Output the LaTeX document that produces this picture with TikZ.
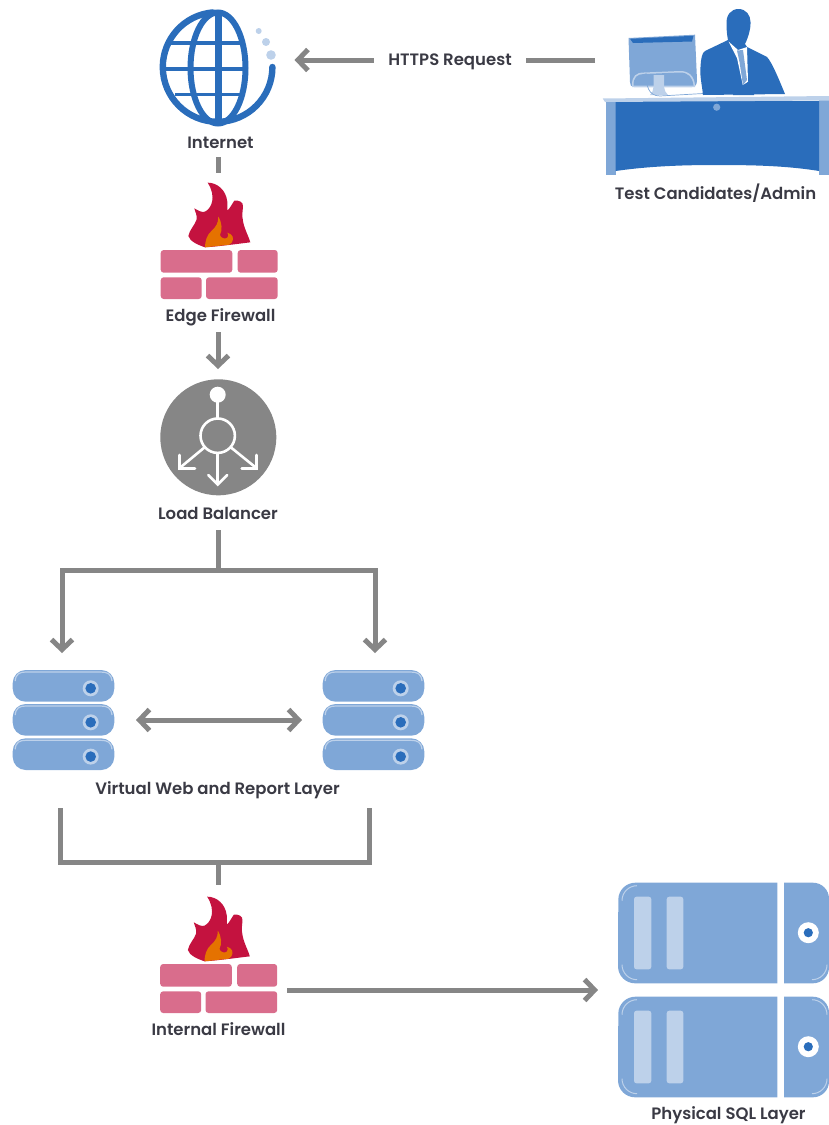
\documentclass[tikz,border=0pt]{standalone}
\usepackage{fontspec}
\setmainfont{Poppins}[BoldFont={Poppins SemiBold}]
\usetikzlibrary{arrows.meta}
\definecolor{blu}{HTML}{2A6DBB}
\definecolor{mid}{HTML}{7FA7D7}
\definecolor{pale}{HTML}{BDD1EA}
\definecolor{conn}{HTML}{868686}
\definecolor{pnk}{HTML}{D96D8C}
\definecolor{crim}{HTML}{C4123F}
\definecolor{org}{HTML}{E57200}
\definecolor{ink}{HTML}{3A3A44}
\tikzset{
  lbl/.style={font=\fontsize{16.5}{18}\selectfont\bfseries,text=ink,inner sep=0pt,anchor=base},
  slot/.style={inner sep=0pt,outer sep=0pt},
  conline/.style={draw=conn,line width=5pt},
  barb/.tip={Straight Barb[length=10pt,width=21pt,line width=5pt]},
  conarrow/.style={conline,-barb},
  conboth/.style={conline,barb-barb},
  lbwhite/.style={draw=white,line width=2.6pt},
}
\newcommand{\firewallicon}[2]{%
\begin{scope}[shift={(#1,#2)}]
 \fill[pnk,rounded corners=3pt] (0,0) rectangle (71.6,22.7);
 \fill[pnk,rounded corners=3pt] (77,0) rectangle (117,22.7);
 \fill[pnk,rounded corners=3pt] (0,27.3) rectangle (41,49);
 \fill[pnk,rounded corners=3pt] (45.3,27.3) rectangle (117,49);
 \begin{scope}[shift={(-20.7,-80)},x=.3333pt,y=-.3333pt]
 \fill[crim] (203,38) .. controls (232,38) and (258,60) .. (262,95)
   .. controls (263,105) and (262,115) .. (262,122)
   .. controls (270,115) and (276,102) .. (283,92)
   .. controls (295,90) and (312,95) .. (309,112)
   .. controls (306,135) and (306,150) .. (315,175)
   .. controls (320,190) and (328,205) .. (331,217)
   .. controls (290,222) and (230,230) .. (195,232)
   .. controls (175,225) and (150,215) .. (145,198)
   .. controls (148,180) and (165,165) .. (170,148)
   .. controls (172,135) and (165,125) .. (163,115)
   .. controls (175,122) and (185,128) .. (195,125)
   .. controls (215,115) and (230,80) .. (203,38) -- cycle;
 \fill[org] (235,140) .. controls (247,160) and (247,180) .. (240,195)
   .. controls (243,205) and (255,208) .. (262,203)
   .. controls (267,198) and (265,192) .. (262,188)
   .. controls (278,192) and (284,205) .. (275,218)
   -- (268,224) -- (195,232)
   .. controls (195,215) and (200,195) .. (215,182)
   .. controls (228,170) and (235,160) .. (235,140) -- cycle;
 \end{scope}
\end{scope}}
\newcommand{\pill}[2]{%
 \fill[mid,rounded corners=13pt] (#1,#2) rectangle ++(101.6,31.7);
 \draw[pale,line width=1.2pt] (#1+2.5,#2+11) .. controls (#1+3,#2+4) and (#1+7,#2+2) .. (#1+13,#2+2) -- (#1+88,#2+2) .. controls (#1+95,#2+2) and (#1+98.5,#2+4) .. (#1+99.3,#2+11);
 \fill[pale] (#1+78,#2+18.3) circle (8pt);
 \fill[blu] (#1+78,#2+18.3) circle (5.3pt);
}
\newcommand{\stack}[1]{\pill{#1}{670}\pill{#1}{704}\pill{#1}{738.3}}
\newcommand{\physical}[1]{%
 \fill[mid] (635,#1) -- (777.3,#1) -- (777.3,#1+100.6) -- (635,#1+100.6) arc[start angle=270,end angle=180,radius=17pt] -- (618.3,#1+17) arc[start angle=180,end angle=90,radius=17pt] -- cycle;
 \fill[mid] (784,#1) -- (813,#1) arc[start angle=90,end angle=0,radius=16pt] -- (829,#1+84.6) arc[start angle=0,end angle=-90,radius=16pt] -- (784,#1+100.6) -- cycle;
 \fill[pale,rounded corners=2.5pt] (634,#1+14) rectangle (651.3,#1+86.6);
 \fill[pale,rounded corners=2.5pt] (666.7,#1+14) rectangle (683.3,#1+86.6);
 \fill[white] (808.3,#1+50) circle (10.5pt);
 \fill[blu] (808.3,#1+50) circle (4.6pt);
 \draw[pale,line width=1pt] (637,#1+3) arc[start angle=90,end angle=180,radius=15pt];
 \draw[pale,line width=1pt] (622,#1+82) arc[start angle=180,end angle=270,radius=15pt];
 \draw[pale,line width=1pt] (827,#1+82) arc[start angle=0,end angle=-90,radius=15pt];
}
\begin{document}
\begin{tikzpicture}[x=1pt,y=-1pt]
\useasboundingbox (0,0) rectangle (829,1125);
% ---------- globe
\fill[pale] (258.7,31) circle (3pt) (266,42) circle (4pt) (271,55) circle (4.8pt);
\begin{scope}[blu,line cap=round]
 \draw[line width=6.4pt] (272.4,67) arc[start angle=0,end angle=-265,radius=54.8pt];
 \draw[line width=6pt] (218,68) ellipse [x radius=27.5pt,y radius=55.5pt];
 \draw[line width=7pt,line cap=butt] (218.2,13) -- (218.2,124);
 \draw[line width=3.6pt,line cap=butt] (171,43) -- (242,43);
 \draw[line width=3.8pt,line cap=butt] (165,69) -- (245,69);
 \draw[line width=3.6pt,line cap=butt] (175,94.5) -- (240,94.5);
\end{scope}
% ---------- person at desk
\begin{scope}
 \fill[mid] (628.5,38) -- (695,34.7) -- (697,80) .. controls (697,85) and (695,87) .. (692,87) -- (634,87) .. controls (631,87) and (630,85) .. (630,82) -- cycle;
 \fill[blu] (630,38.8) -- (693.5,35.8) -- (692,41.5) -- (633,43) -- cycle;
 \fill[pale] (632,85) .. controls (632,76) and (636,72.5) .. (644,72.5) -- (680,71) .. controls (689,71) and (694,76) .. (695,85) -- (695,87) -- (632,87) -- cycle;
 \fill[mid] (633.5,85.5) .. controls (633.5,77.5) and (637,74) .. (644,74) -- (680,72.5) .. controls (688,72.5) and (692.5,77) .. (693.5,85.5) -- cycle;
 \fill[pale] (653.5,75) -- (664,75) -- (664,87) .. controls (664,90) and (666,93) .. (668,95) -- (650,95) .. controls (652,93) and (653.5,90) .. (653.5,87) -- cycle;
 \draw[mid,line width=.7pt] (646,73) .. controls (646,85) and (648,96) .. (660,96) -- (712,93);
 \fill[blu] (738.5,9) .. controls (746,9) and (750.5,15) .. (750.5,22) .. controls (751,30) and (747,40) .. (745,44) -- (747,47) -- (767,57) .. controls (772,62) and (780,82) .. (785,94) -- (703,95) .. controls (702,85) and (699.5,75) .. (700.5,67) .. controls (701,58) and (702,53) .. (705,51) -- (728,40) .. controls (727,35) and (726.5,30) .. (726.5,24) .. controls (726,15) and (731,9) .. (738.5,9) -- cycle;
 \fill[white] (728.5,41.5) -- (738,50) -- (747,47) -- (748,82) -- (743,86) -- (737,58) -- cycle;
 \fill[mid] (737,50.5) -- (743,50) -- (747,80) -- (743,85) -- (739.5,62) -- cycle;
 \fill[blu] (733,90) -- (743,85) -- (748,82) -- (754,86) -- (754,95) -- (733,95) -- cycle;
 \fill[mid] (605.7,100) -- (616,100) -- (616,175) -- (605.7,175) -- cycle;
 \fill[mid] (819,100) -- (829,100) -- (829,175) -- (819,175) -- cycle;
 \fill[blu] (615.7,101) -- (819,101) -- (819,171) .. controls (785,165.5) and (750,165) .. (716,165) .. controls (685,165) and (650,166) .. (615.7,171) -- cycle;
 \fill[pale] (602.7,98.5) -- (829,96) -- (829,100.5) -- (605,102) -- cycle;
 \fill[mid] (716.7,107.2) circle (3.6pt);
\end{scope}
% ---------- firewalls
\firewallicon{160.7}{250}
\firewallicon{160.2}{964}
% ---------- load balancer
\fill[conn] (218.3,437.3) circle (58pt);
\fill[white] (217.7,394.7) circle (8pt);
\draw[lbwhite] (217.7,435.7) circle (17.2pt);
\draw[lbwhite] (217.7,396) -- (217.7,418.5) (217.7,453) -- (217.7,484);
\draw[lbwhite] (205,447) -- (179.3,468.3) (230.4,447) -- (256.7,468.3);
\draw[lbwhite,line cap=round,line join=miter] (208.3,475) -- (217.7,484.5) -- (227.3,475);
\draw[lbwhite,line cap=round] (179.3,455) -- (179.3,468.3) -- (195,468.3);
\draw[lbwhite,line cap=round] (256.7,455) -- (256.7,468.3) -- (241.7,468.3);
% ---------- servers
\stack{12.7}
\stack{322.7}
\physical{882.7}
\physical{996.7}
\draw[pale,line width=1pt] (827,1014.7) arc[start angle=0,end angle=90,radius=15pt];
% ---------- labels
\node[lbl] (linternet) at (220.5,148) {Internet};
\node[lbl] (ldesk) at (715.5,199) {Test Candidates/Admin};
\node[lbl] (ledge) at (220.5,321) {Edge Firewall};
\node[lbl] (lbal) at (218,519) {Load Balancer};
\node[lbl] (lweb) at (217.5,794) {Virtual Web and Report Layer};
\node[lbl] (lint) at (218.5,1035) {Internal Firewall};
\node[lbl] (lsql) at (728.5,1119) {Physical SQL Layer};
\node[lbl,anchor=center,text height=11pt,text depth=0pt,inner xsep=14.5pt] (https) at (450,59.5) {HTTPS Request};
% ---------- anchor nodes (connector ends sit on them)
\node[slot,minimum width=78pt,minimum height=44pt] (desk) at (634,60) {};
\node[slot,minimum width=3pt,minimum height=3pt] (internet) at (294.5,60) {};
\node[slot,minimum width=6pt,minimum height=1pt] (internetout) at (218,157) {};
\node[slot,minimum width=6pt,minimum height=1pt] (edgein) at (218,173) {};
\node[slot,minimum width=6pt,minimum height=1pt] (edgeout) at (218,332) {};
\node[slot,minimum width=6pt,minimum height=1pt] (balin) at (218,369) {};
\node[slot,minimum width=6pt,minimum height=1pt] (balout) at (218,530) {};
\node[slot,minimum width=6pt,minimum height=1pt] (webl) at (62,653) {};
\node[slot,minimum width=6pt,minimum height=1pt] (webr) at (375,653) {};
\node[slot,minimum width=1pt,minimum height=6pt] (webla) at (136,720) {};
\node[slot,minimum width=1pt,minimum height=6pt] (webra) at (302,720) {};
\node[slot,minimum width=6pt,minimum height=1pt] (weblo) at (60,808) {};
\node[slot,minimum width=6pt,minimum height=1pt] (webro) at (369,808) {};
\node[slot,minimum width=6pt,minimum height=1pt] (intin) at (218,885) {};
\node[slot,minimum width=1pt,minimum height=6pt] (intout) at (287,990) {};
\node[slot,minimum width=1pt,minimum height=6pt] (sql) at (598,990) {};
% ---------- connectors
\coordinate (busA) at (218,570);
\coordinate (busB) at (218,862);
\draw[conline] (desk.west) -- (https.east |- desk.west);
\draw[conarrow] (https.west |- internet.center) -- (internet.center);
\draw[conline] (internetout.center) -- (edgein.center);
\draw[conarrow] (edgeout.center) -- (balin.center);
\draw[conline] (balout.center) -- (busA);
\draw[conarrow] (busA) -| (webl.center);
\draw[conarrow] (busA) -| (webr.center);
\draw[conboth] (webla.center) -- (webra.center);
\draw[conline] (weblo.center) |- (busB) -| (webro.center);
\draw[conline] (busB) -- (intin.center);
\draw[conarrow] (intout.center) -- (sql.center);
\end{tikzpicture}
\end{document}
